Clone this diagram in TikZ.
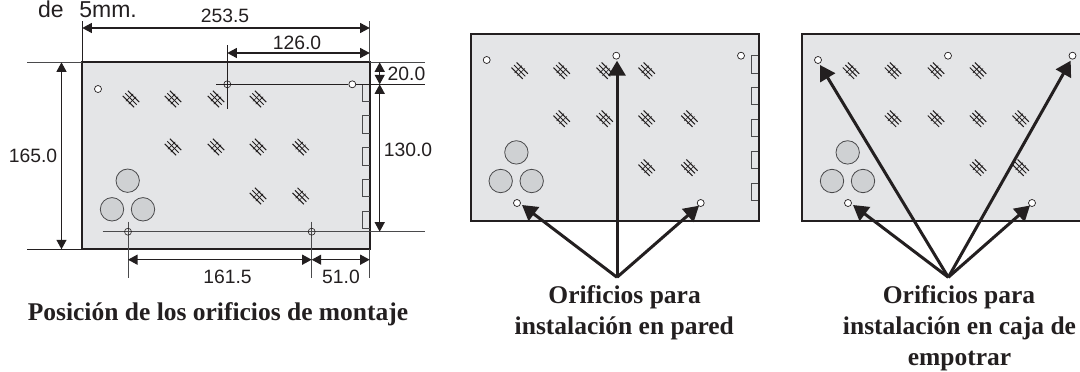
\documentclass[tikz,border=0pt]{standalone}
\usepackage{fontspec}
\setmainfont{Liberation Serif}
\setsansfont{Liberation Sans}
\usetikzlibrary{arrows.meta}
\definecolor{ink}{HTML}{231F20}
\definecolor{panelgrey}{HTML}{E4E5E7}
\definecolor{knock}{HTML}{CFD1D3}
\definecolor{thin}{HTML}{4A4A4C}
\tikzset{
  x=1pt,y=-1pt,
  panelbox/.style={draw=ink,fill=panelgrey,line width=1.8pt},
  tab/.style={draw=thin,line width=0.9pt},
  bigcirc/.style={circle,draw=thin,fill=knock,line width=0.8pt,minimum size=23.4pt,inner sep=0pt},
  hole/.style={circle,draw=ink,fill=white,line width=0.7pt,minimum size=7pt,inner sep=0pt},
  crosshole/.style={circle,draw=ink,fill=none,line width=0.6pt,minimum size=7pt,inner sep=0pt},
  ext/.style={draw=ink,line width=0.7pt},
  extg/.style={draw=thin,line width=0.8pt},
  dim/.style={draw=ink,line width=1.2pt,{Triangle[length=9.5pt,width=10pt]}-{Triangle[length=9.5pt,width=10pt]}},
  bigarrow/.style={draw=ink,line width=3pt,-{Triangle[length=15pt,width=17pt]}},
  dimtext/.style={font=\sffamily\fontsize{19.3}{19.3}\selectfont,anchor=base,inner sep=0pt,text=ink},
  captextb/.style={font=\rmfamily\bfseries\fontsize{25.5}{25.5}\selectfont,anchor=base,inner sep=0pt,text=ink},
}
\newcommand{\hatchmark}[2]{%
  \begin{scope}[shift={(#1,#2)},rotate=-45]
    \foreach \d in {-3.6,0,3.6}{\draw[ink,line width=1pt] (-8,\d) -- (8,\d);}
    \foreach \d in {-2,2}{\draw[ink,line width=0.6pt] (\d,-5.2) -- (\d,5.2);}
  \end{scope}}
\newcommand{\panelbody}[2]{%
  \begin{scope}[shift={(#1,0)}]
    \path[panelbox] (82.3,#2) rectangle ++(287.7,187);
    \foreach \y in {21.8,53.5,85.4,117.2,149}{\draw[tab] (369.7,#2+\y) -- ++(-7,0) -- ++(0,17.4) -- ++(7,0);}
    \foreach \x/\y in {131/99,173/99,216/99,258/99,173/147,216/147,258/147,300.7/147,258/196,300.7/196}{\hatchmark{\x}{\y-62.3+#2}}
    \node[bigcirc] at (127.7,#2+118.4) {};
    \node[bigcirc] at (112,#2+147) {};
    \node[bigcirc] at (143,#2+147) {};
  \end{scope}}
\begin{document}
\begin{tikzpicture}
\useasboundingbox (0,0) rectangle (1080,372);
\clip (0,0) rectangle (1080,372);
% left panel
\panelbody{0}{62.3}
\node[hole] (a1) at (98,89) {};
\node[hole] (a2) at (352.3,84.3) {};
\coordinate (c1) at (227.3,84.3);
\coordinate (c2) at (128,231.7);
\coordinate (c3) at (311.7,231.7);
\draw[ext] (216,84.3) -- (a2) (a2) -- (425,84.3);
\draw[ext] (227.3,45) -- (227.3,109);
\draw[extg] (102.7,231.7) -- (425,231.7);
\draw[extg] (128,221.7) -- (128,278);
\draw[extg] (311.7,221.7) -- (311.7,278);
\node[crosshole] at (c1) {};
\node[crosshole] at (c2) {};
\node[crosshole] at (c3) {};
\draw[ext] (82.3,21) -- (82.3,62.3);
\draw[extg] (369.7,21) -- (369.7,62.3);
\draw[extg] (27,62.3) -- (82.3,62.3) (369.7,62.3) -- (425,62.3);
\draw[ext] (27,249.3) -- (82.3,249.3);
\draw[extg] (369.7,249.3) -- (369.7,278);
\coordinate (d1a) at (82.3,28); \coordinate (d1b) at (369.7,28);
\coordinate (d2a) at (227.3,53); \coordinate (d2b) at (369.7,53);
\coordinate (d3a) at (61.5,62.3); \coordinate (d3b) at (61.5,249.3);
\coordinate (d4a) at (379.7,62.3); \coordinate (d4b) at (379.7,84.3);
\coordinate (d5a) at (379.7,84.3); \coordinate (d5b) at (379.7,231.7);
\coordinate (d6a) at (128,259.7); \coordinate (d6b) at (311.7,259.7);
\coordinate (d7a) at (311.7,259.7); \coordinate (d7b) at (369.7,259.7);
\draw[dim] (d1a) -- (d1b);
\draw[dim] (d2a) -- (d2b);
\draw[dim] (d3a) -- (d3b);
\draw[dim] (d4a) -- (d4b);
\draw[dim] (d5a) -- (d5b);
\draw[dim] (d6a) -- (d6b);
\draw[dim] (d7a) -- (d7b);
\node[dimtext,font=\sffamily\fontsize{23}{23}\selectfont] at (87.5,17) {de\hspace{15.6pt}5mm.};
\node[dimtext] at (225,22.7) {253.5};
\node[dimtext] at (297,49) {126.0};
\node[dimtext] at (406.5,80) {20.0};
\node[dimtext] at (408,156.7) {130.0};
\node[dimtext] at (33,162) {165.0};
\node[dimtext] at (227.5,283) {161.5};
\node[dimtext] at (341,283) {51.0};
\node[captextb] at (218,320) {Posición de los orificios de montaje};
% middle panel
\panelbody{388.7}{34}
\node[hole] (b1) at (486.7,60) {};
\node[hole] (b2) at (616.3,55.7) {};
\node[hole] (b3) at (741,55.7) {};
\node[hole] (b4) at (517,203) {};
\node[hole] (b5) at (700.7,203) {};
\coordinate (bapex) at (617,277.3);
\draw[bigarrow] (bapex) -- (617,60.7);
\draw[bigarrow] (bapex) -- (522,205);
\draw[bigarrow] (bapex) -- (699,205.7);
\node[captextb] at (624.6,303) {Orificios para};
\node[captextb] at (624.3,334) {instalación en pared};
% right panel
\panelbody{720}{34}
\node[hole] (e1) at (818,60) {};
\node[hole] (e2) at (948,55.7) {};
\node[hole] (e3) at (1072.5,55.7) {};
\node[hole] (e4) at (848,203) {};
\node[hole] (e5) at (1032,203) {};
\coordinate (eapex) at (948.3,277.3);
\draw[bigarrow] (eapex) -- (820,65);
\draw[bigarrow] (eapex) -- (1070.7,60.7);
\draw[bigarrow] (eapex) -- (853,205);
\draw[bigarrow] (eapex) -- (1030,205.5);
\node[captextb] at (959,303) {Orificios para};
\node[captextb] at (959.5,334) {instalación en caja de};
\node[captextb] at (959.5,365.7) {empotrar};
\end{tikzpicture}
\end{document}
